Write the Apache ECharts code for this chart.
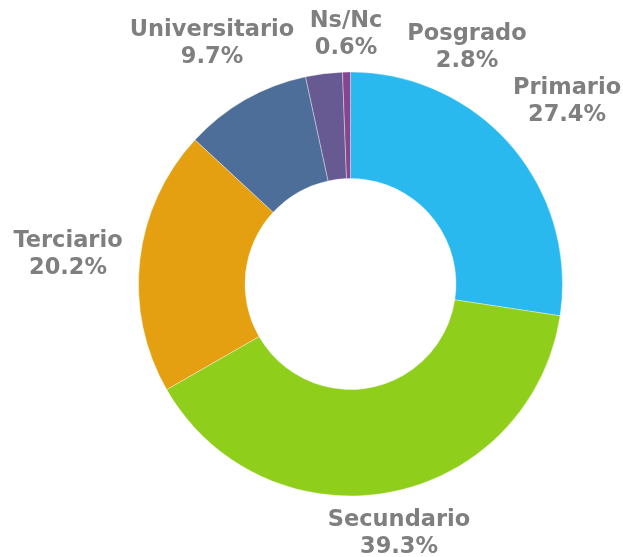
<!DOCTYPE html>
<html>
<head>
<meta charset="utf-8">
<script src="https://cdn.jsdelivr.net/npm/echarts@6/dist/echarts.min.js"></script>
<style>
  html, body { margin: 0; padding: 0; background: #fff; }
  #main { width: 623px; height: 557px; }
</style>
</head>
<body>
<div id="main"></div>
<script>
var categories = ['Primario', 'Secundario', 'Terciario', 'Universitario', 'Posgrado', 'Ns/Nc'];
var values = [27.4, 39.3, 20.2, 9.7, 2.8, 0.6];
var colors = ['#29b9ef', '#8fce1a', '#e5a011', '#4d6e99', '#675a93', '#86458f'];
// where each label sits (centre of the two-line text block)
var labelSpots = [[567, 102], [399, 534], [68, 255], [212, 44], [467, 48], [346, 35]];

var myChart = echarts.init(document.getElementById('main'));
var option = {
    animation: false,
    series: [{
        type: 'pie',
        center: [350.5, 284],
        radius: [105.5, 212],
        startAngle: 90,
        clockwise: true,
        avoidLabelOverlap: false,
        itemStyle: { borderColor: 'rgba(255,255,255,0.6)', borderWidth: 0.6 },
        label: {
            show: true,
            position: 'outside',
            formatter: function (p) { return p.name + '\n' + p.value.toFixed(1) + '%'; },
            fontFamily: 'DejaVu Sans',
            fontWeight: 'bold',
            fontSize: 22.5,
            lineHeight: 27,
            color: '#7f7f7f',
            align: 'center'
        },
        labelLine: { show: false },
        labelLayout: function (params) {
            var s = labelSpots[params.dataIndex];
            return { x: s[0], y: s[1], align: 'center', verticalAlign: 'middle' };
        },
        emphasis: { disabled: true },
        data: categories.map(function (c, i) {
            return { name: c, value: values[i], itemStyle: { color: colors[i] } };
        })
    }]
};
myChart.setOption(option);
window.onresize = myChart.resize;
</script>
</body>
</html>
